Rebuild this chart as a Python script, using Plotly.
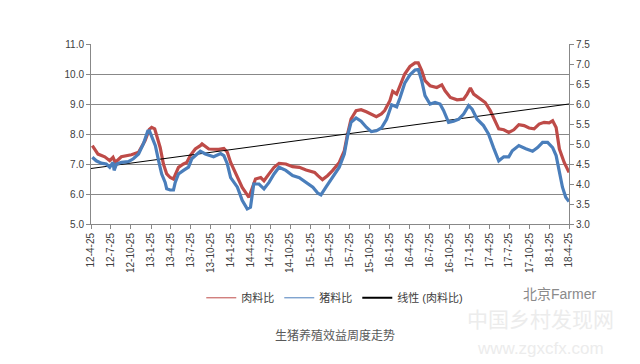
import plotly.graph_objects as go

# ---- data ----
meat_dates = ["2012-05-01","2012-05-27","2012-06-27","2012-07-20","2012-08-04","2012-08-14","2012-09-11",
    "2012-10-27","2012-11-29","2012-12-12","2012-12-29","2013-01-17","2013-01-28","2013-02-11","2013-02-20",
    "2013-03-08","2013-03-23","2013-04-07","2013-04-23","2013-05-08","2013-05-16","2013-05-31","2013-06-23",
    "2013-07-08","2013-07-24","2013-08-16","2013-09-08","2013-09-16","2013-10-17","2013-12-02","2013-12-25",
    "2014-01-10","2014-01-25","2014-02-18","2014-03-19","2014-04-19","2014-05-04","2014-05-19","2014-06-12",
    "2014-06-27","2014-07-20","2014-08-12","2014-09-04","2014-10-05","2014-11-05","2014-12-06","2015-01-06",
    "2015-02-14","2015-03-01","2015-03-22","2015-04-14","2015-05-07","2015-06-07","2015-06-30","2015-07-15",
    "2015-07-31","2015-08-23","2015-09-15","2015-10-09","2015-11-01","2015-11-24","2015-12-17","2016-01-01",
    "2016-01-25","2016-02-07","2016-02-25","2016-03-11","2016-04-02","2016-04-26","2016-05-19","2016-06-03",
    "2016-06-19","2016-07-04","2016-07-27","2016-08-27","2016-09-19","2016-10-04","2016-10-28","2016-11-28",
    "2016-12-28","2017-01-13","2017-01-28","2017-02-12","2017-03-14","2017-04-06","2017-04-29","2017-05-22",
    "2017-06-07","2017-06-30","2017-07-23","2017-08-15","2017-09-07","2017-10-01","2017-10-24","2017-11-16",
    "2017-12-09","2018-01-01","2018-01-24","2018-02-09","2018-02-25","2018-03-12","2018-04-03","2018-04-25"]
meat_ratio = [7.61,7.33,7.24,7.11,7.22,7.05,7.24,
    7.31,7.39,7.55,7.78,8.15,8.22,8.17,7.94,
    7.55,7.00,6.67,6.55,6.50,6.64,6.89,7.00,
    7.05,7.28,7.50,7.61,7.67,7.50,7.49,7.52,
    7.39,7.05,6.67,6.22,5.89,6.22,6.50,6.55,
    6.44,6.67,6.89,7.02,7.00,6.91,6.89,6.80,
    6.72,6.61,6.48,6.61,6.78,7.05,7.44,8.00,
    8.50,8.78,8.81,8.74,8.67,8.58,8.67,8.78,
    9.11,9.42,9.33,9.60,10.00,10.25,10.37,10.37,
    10.11,9.78,9.61,9.55,9.64,9.44,9.22,9.14,
    9.16,9.33,9.53,9.33,9.16,9.05,8.78,8.39,
    8.17,8.14,8.05,8.14,8.31,8.28,8.20,8.17,
    8.33,8.39,8.37,8.44,8.22,7.50,7.05,6.72]

hog_dates = ["2012-05-01","2012-05-19","2012-06-11","2012-07-04","2012-07-20","2012-08-04","2012-08-09",
    "2012-08-20","2012-09-12","2012-10-13","2012-11-05","2012-11-29","2012-12-21","2013-01-10","2013-01-18",
    "2013-01-29","2013-02-14","2013-03-01","2013-03-15","2013-03-31","2013-04-07","2013-04-23","2013-05-08",
    "2013-05-16","2013-05-31","2013-06-23","2013-07-16","2013-07-31","2013-08-23","2013-09-08","2013-10-01",
    "2013-10-24","2013-11-08","2013-12-10","2013-12-25","2014-01-10","2014-01-25","2014-02-25","2014-03-19",
    "2014-04-11","2014-04-26","2014-05-11","2014-06-04","2014-06-27","2014-07-20","2014-08-12","2014-09-04",
    "2014-10-05","2014-11-05","2014-12-06","2015-01-06","2015-02-06","2015-03-01","2015-03-15","2015-04-07",
    "2015-05-07","2015-06-07","2015-06-30","2015-07-15","2015-07-31","2015-08-23","2015-09-15","2015-10-09",
    "2015-11-01","2015-11-24","2015-12-17","2016-01-10","2016-02-02","2016-02-25","2016-03-11","2016-04-02",
    "2016-04-26","2016-05-19","2016-06-03","2016-06-19","2016-07-04","2016-07-27","2016-08-19","2016-09-11",
    "2016-09-27","2016-10-20","2016-11-12","2016-12-06","2016-12-28","2017-01-20","2017-02-05","2017-02-28",
    "2017-03-29","2017-04-21","2017-05-14","2017-06-07","2017-06-30","2017-07-23","2017-08-08","2017-09-07",
    "2017-10-09","2017-11-09","2017-12-02","2017-12-25","2018-01-17","2018-02-09","2018-02-25","2018-03-12",
    "2018-03-26","2018-04-10","2018-04-25"]
hog_ratio = [4.67,4.58,4.52,4.50,4.42,4.54,4.34,
    4.50,4.54,4.56,4.63,4.75,5.00,5.32,5.33,
    5.17,4.96,4.58,4.25,4.04,3.88,3.85,3.85,
    4.04,4.25,4.34,4.42,4.63,4.75,4.82,4.75,
    4.71,4.68,4.76,4.71,4.50,4.16,3.92,3.59,
    3.38,3.42,4.00,4.00,3.88,4.04,4.25,4.42,
    4.34,4.21,4.16,4.04,3.92,3.77,3.73,3.92,
    4.16,4.42,4.75,5.20,5.54,5.65,5.57,5.42,
    5.31,5.33,5.40,5.62,5.98,5.93,6.15,6.52,
    6.73,6.85,6.86,6.58,6.21,6.00,6.04,6.00,
    5.84,5.54,5.57,5.62,5.75,5.96,5.87,5.62,
    5.46,5.25,4.91,4.58,4.68,4.68,4.83,4.96,
    4.88,4.82,4.91,5.04,5.04,4.91,4.71,4.34,
    3.92,3.67,3.56]

trend_dates = ["2012-04-25", "2018-04-25"]
trend_values = [6.85, 9.00]

tick_labels = ["12-4-25","12-7-25","12-10-25","13-1-25","13-4-25","13-7-25","13-10-25",
    "14-1-25","14-4-25","14-7-25","14-10-25","15-1-25","15-4-25","15-7-25","15-10-25",
    "16-1-25","16-4-25","16-7-25","16-10-25","17-1-25","17-4-25","17-7-25","17-10-25",
    "18-1-25","18-4-25"]

series_names = ["肉料比", "猪料比", "线性 (肉料比)"]
chart_title = "生猪养殖效益周度走势"

# ---- styling ----
RED = "#BE4B48"
BLUE = "#4A7EBB"
GRID = "#888888"
TXT = "#404040"
FONT = "Liberation Sans, Noto Sans CJK SC, sans-serif"

def to_date(lbl):
    y, m, d = lbl.split("-")
    return f"20{y}-{int(m):02d}-{int(d):02d}"

tick_vals = [to_date(t) for t in tick_labels]

fig = go.Figure()
fig.add_trace(go.Scatter(x=meat_dates, y=meat_ratio, mode="lines", yaxis="y",
                         line=dict(color=RED, width=3.2), showlegend=False))
fig.add_trace(go.Scatter(x=hog_dates, y=hog_ratio, mode="lines", yaxis="y2",
                         line=dict(color=BLUE, width=3.2), showlegend=False))
fig.add_trace(go.Scatter(x=trend_dates, y=trend_values, mode="lines", yaxis="y",
                         line=dict(color="#000000", width=1), showlegend=False))
# legend entries (thin sample lines as in the reference)
for name, col, w in zip(series_names, [RED, BLUE, "#000000"], [1, 1, 2]):
    fig.add_trace(go.Scatter(x=[None], y=[None], mode="lines", name=name,
                             line=dict(color=col, width=w)))

fig.update_layout(
    width=640, height=364,
    margin=dict(l=91, r=71, t=44, b=140, autoexpand=False),
    paper_bgcolor="white", plot_bgcolor="white",
    font=dict(family=FONT, size=10, color=TXT),
    xaxis=dict(type="date", range=["2012-04-25", "2018-04-25"],
               tickvals=tick_vals, ticktext=tick_labels, tickangle=-90,
               showgrid=False, showline=True, linecolor=GRID, linewidth=1,
               ticks="outside", ticklen=4, tickcolor=GRID, zeroline=False,
               tickfont=dict(size=10, color=TXT)),
    yaxis=dict(range=[5, 11], dtick=1, tick0=5, tickformat=".1f",
               showgrid=True, gridcolor=GRID, gridwidth=1,
               showline=True, linecolor=GRID, ticks="outside", ticklen=4,
               tickcolor=GRID, zeroline=False, tickfont=dict(size=10, color=TXT)),
    yaxis2=dict(range=[3, 7.5], dtick=0.5, tick0=3, tickformat=".1f",
                overlaying="y", side="right", showgrid=False,
                showline=True, linecolor=GRID, ticks="outside", ticklen=4,
                tickcolor=GRID, zeroline=False, tickfont=dict(size=10, color=TXT)),
    legend=dict(orientation="h", x=0.51, xanchor="center", y=-0.41, yanchor="middle",
                font=dict(size=11, color=TXT), itemwidth=30, bgcolor="rgba(0,0,0,0)",
                tracegroupgap=0),
    annotations=[
        dict(text=chart_title, xref="paper", yref="paper", x=0.51, y=-0.62,
             xanchor="center", yanchor="middle", showarrow=False,
             font=dict(size=12, color="#595959", family=FONT)),
        dict(text="北京Farmer", xref="paper", yref="paper", x=0.98, y=-0.39,
             xanchor="center", yanchor="middle", showarrow=False,
             font=dict(size=14, color="#8a8a8a", family=FONT)),
        dict(text="中国乡村发现网", xref="paper", yref="paper", x=0.94, y=-0.53,
             xanchor="center", yanchor="middle", showarrow=False,
             font=dict(size=21, color="#ececec", family=FONT)),
        dict(text="www.zgxcfx.com", xref="paper", yref="paper", x=0.94, y=-0.69,
             xanchor="center", yanchor="middle", showarrow=False,
             font=dict(size=17, color="#ececec", family=FONT)),
    ],
)

fig.write_html("out.html", config={"displayModeBar": False},
               post_script="document.body.style.margin='0';")
